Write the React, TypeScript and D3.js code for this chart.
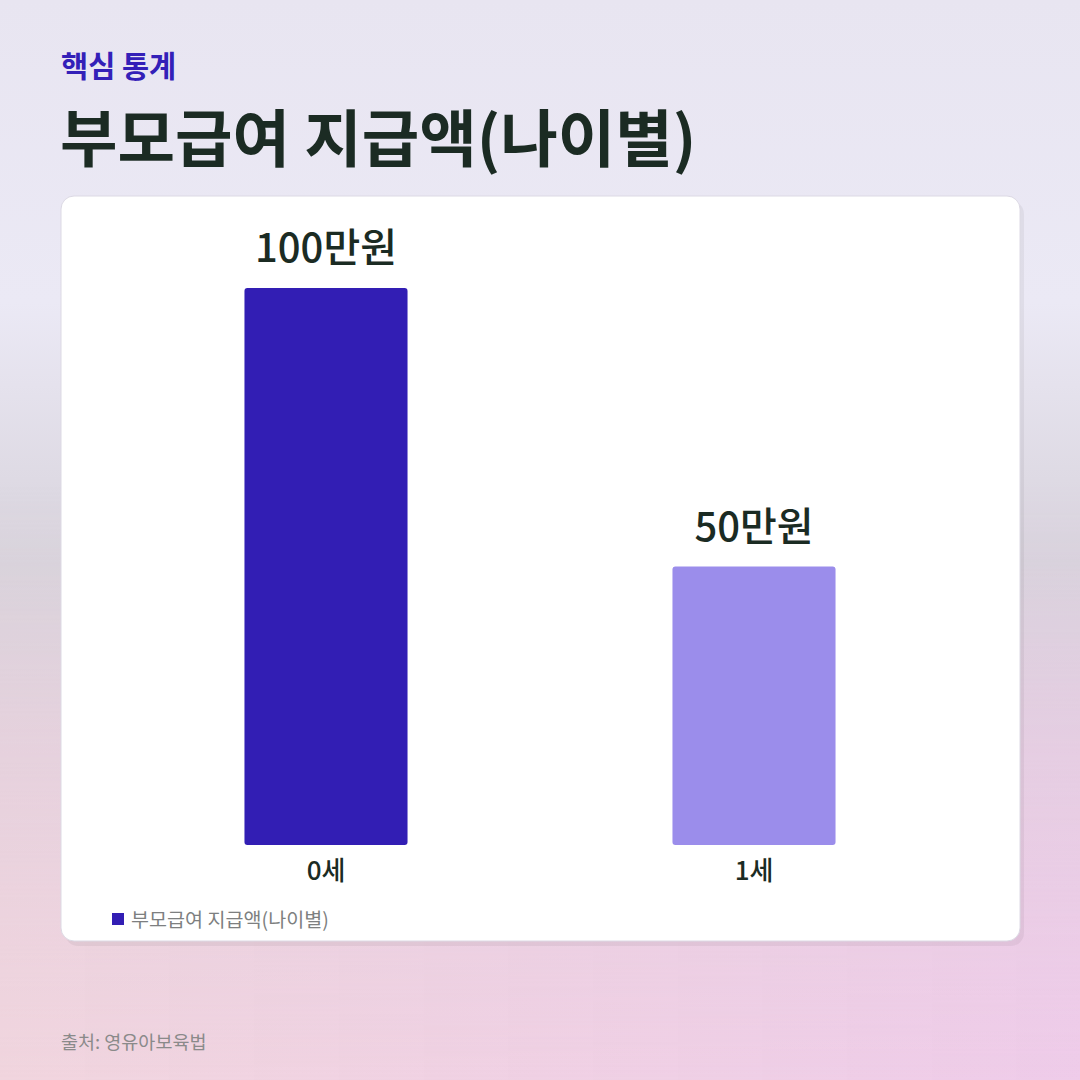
import React, { useEffect, useRef } from 'react';
import * as d3 from 'd3';

const categories = ['0세', '1세'];
const values = [100, 50];
const valueLabels = ['100만원', '50만원'];
const barColors = ['#321eb4', '#9b8deb'];
const seriesName = '부모급여 지급액(나이별)';
const kicker = '핵심 통계';
const title = '부모급여 지급액(나이별)';
const source = '출처: 영유아보육법';

const FONT = "'Noto Sans CJK KR', 'Noto Sans', sans-serif";

export default function App() {
  const ref = useRef<SVGSVGElement | null>(null);

  useEffect(() => {
    const width = 1080;
    const height = 1080;
    const svg = d3.select(ref.current);
    svg.selectAll('*').remove();

    const defs = svg.append('defs');
    const bg = defs
      .append('linearGradient')
      .attr('id', 'bg')
      .attr('x1', 0)
      .attr('y1', 0)
      .attr('x2', 0)
      .attr('y2', 1);
    [
      [0, '#e8e5f1'],
      [0.28, '#ebe9f5'],
      [0.52, '#d8d3dc'],
      [0.7, '#e3d0df'],
      [1, '#efd2e4'],
    ].forEach(([o, c]) => bg.append('stop').attr('offset', o as number).attr('stop-color', c as string));

    const tint = defs
      .append('linearGradient')
      .attr('id', 'tint')
      .attr('x1', 0)
      .attr('y1', 0)
      .attr('x2', 1)
      .attr('y2', 0);
    tint.append('stop').attr('offset', 0).attr('stop-color', '#f2d8d8').attr('stop-opacity', 0.5);
    tint.append('stop').attr('offset', 1).attr('stop-color', '#eec6ee').attr('stop-opacity', 0.55);

    const fade = defs
      .append('linearGradient')
      .attr('id', 'fade')
      .attr('x1', 0)
      .attr('y1', 0)
      .attr('x2', 0)
      .attr('y2', 1);
    fade.append('stop').attr('offset', 0.45).attr('stop-color', '#fff').attr('stop-opacity', 0);
    fade.append('stop').attr('offset', 1).attr('stop-color', '#fff').attr('stop-opacity', 1);
    defs
      .append('mask')
      .attr('id', 'fadeMask')
      .append('rect')
      .attr('width', width)
      .attr('height', height)
      .attr('fill', 'url(#fade)');

    svg.append('rect').attr('width', width).attr('height', height).attr('fill', 'url(#bg)');
    svg
      .append('rect')
      .attr('width', width)
      .attr('height', height)
      .attr('fill', 'url(#tint)')
      .attr('mask', 'url(#fadeMask)');

    // header
    svg
      .append('text')
      .attr('x', 61)
      .attr('y', 77)
      .attr('font-family', FONT)
      .attr('font-size', 29.5)
      .attr('font-weight', 700)
      .attr('fill', '#3320b8')
      .text(kicker);

    svg
      .append('text')
      .attr('x', 60)
      .attr('y', 162)
      .attr('font-family', FONT)
      .attr('font-size', 62.5)
      .attr('font-weight', 700)
      .attr('fill', '#1b2b23')
      .text(title);

    // card
    const card = { x: 61, y: 196, w: 959, h: 745 };
    svg
      .append('rect')
      .attr('x', card.x + 4)
      .attr('y', card.y + 5)
      .attr('width', card.w)
      .attr('height', card.h)
      .attr('rx', 13)
      .attr('fill', '#000')
      .attr('fill-opacity', 0.05);
    svg
      .append('rect')
      .attr('x', card.x)
      .attr('y', card.y)
      .attr('width', card.w)
      .attr('height', card.h)
      .attr('rx', 13)
      .attr('fill', '#ffffff')
      .attr('stroke', '#dcd9e4')
      .attr('stroke-width', 1);

    // chart
    const xScale = d3
      .scaleBand()
      .domain(categories)
      .range([112, 968])
      .paddingInner(0.619)
      .paddingOuter(0.3095);

    const yScale = d3.scaleLinear().domain([0, 100]).range([845, 288]);

    const g = svg.append('g');
    g.selectAll('rect.bar')
      .data(values)
      .enter()
      .append('rect')
      .attr('class', 'bar')
      .attr('x', (_, i) => xScale(categories[i]) as number)
      .attr('y', (d) => yScale(d))
      .attr('width', xScale.bandwidth())
      .attr('height', (d) => yScale(0) - yScale(d))
      .attr('rx', 3)
      .attr('fill', (_, i) => barColors[i]);

    g.selectAll('text.value')
      .data(values)
      .enter()
      .append('text')
      .attr('class', 'value')
      .attr('x', (_, i) => (xScale(categories[i]) as number) + xScale.bandwidth() / 2)
      .attr('y', (d) => yScale(d) - 26)
      .attr('text-anchor', 'middle')
      .attr('font-family', FONT)
      .attr('font-size', 40)
      .attr('font-weight', 500)
      .attr('fill', '#1b2b23')
      .text((_, i) => valueLabels[i]);

    g.selectAll('text.cat')
      .data(categories)
      .enter()
      .append('text')
      .attr('class', 'cat')
      .attr('x', (d) => (xScale(d) as number) + xScale.bandwidth() / 2)
      .attr('y', 880)
      .attr('text-anchor', 'middle')
      .attr('font-family', FONT)
      .attr('font-size', 26)
      .attr('font-weight', 500)
      .attr('fill', '#1b2b23')
      .text((d) => d);

    // legend
    svg
      .append('rect')
      .attr('x', 112)
      .attr('y', 913)
      .attr('width', 12)
      .attr('height', 12)
      .attr('fill', barColors[0]);
    svg
      .append('text')
      .attr('x', 131)
      .attr('y', 927)
      .attr('font-family', FONT)
      .attr('font-size', 19.6)
      .attr('fill', '#7d7f80')
      .text(seriesName);

    // source
    svg
      .append('text')
      .attr('x', 61)
      .attr('y', 1049)
      .attr('font-family', FONT)
      .attr('font-size', 18.5)
      .attr('fill', '#8a8a8a')
      .text(source);
  }, []);

  return (
    <svg
      ref={ref}
      width={1080}
      height={1080}
      style={{ position: 'absolute', left: 0, top: 0, display: 'block' }}
    />
  );
}
